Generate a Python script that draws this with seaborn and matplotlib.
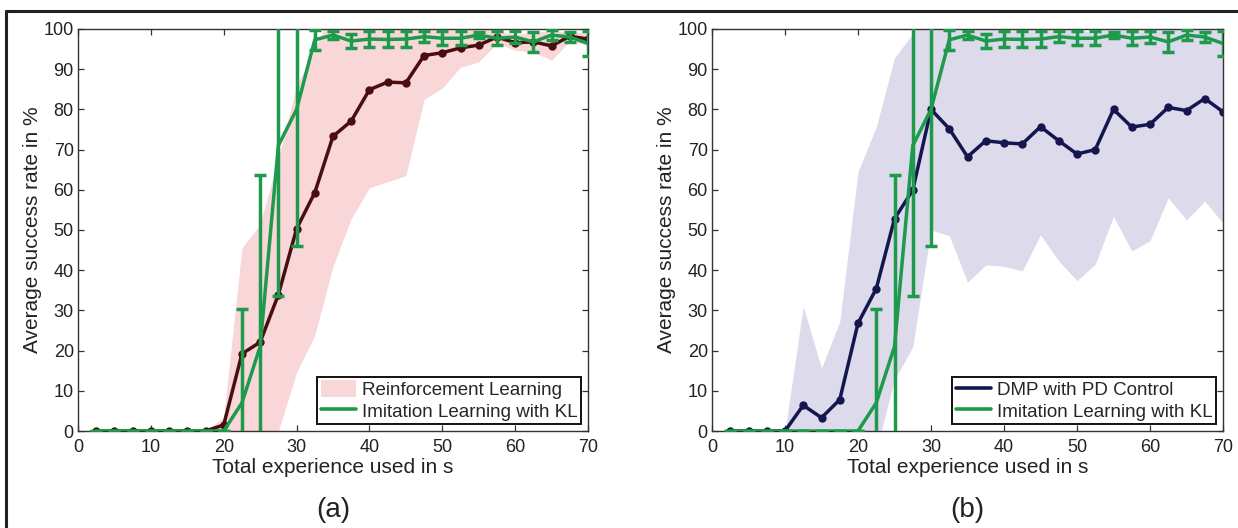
import numpy as np
import pandas as pd
import matplotlib
matplotlib.use("Agg")
import matplotlib.pyplot as plt
from matplotlib.lines import Line2D
from matplotlib.patches import Patch
import seaborn as sns

# Training budget (seconds of experience) at which each evaluation was run
experience = [2.5, 5, 7.5, 10, 12.5, 15, 17.5, 20, 22.5, 25, 27.5, 30, 32.5, 35,
              37.5, 40, 42.5, 45, 47.5, 50, 52.5, 55, 57.5, 60, 62.5, 65, 67.5, 70]

# Reinforcement learning: mean success rate and spread (%)
rl_mean = [0, 0, 0, 0, 0, 0, 0, 1.5, 19.2, 22.1, 33.9, 50.3, 59.3, 73.3,
           77.1, 84.9, 86.8, 86.6, 93.4, 94.1, 95.3, 96.0, 98.0, 96.6, 96.8, 95.8, 98.2, 97.5]
rl_std = [0, 0, 0, 0, 0, 0, 0, 2.0, 26.3, 29.4, 34.0, 35.7, 35.5, 32.3,
          24.3, 24.4, 24.8, 23.1, 10.9, 8.8, 4.8, 4.2, 1.6, 1.9, 2.5, 3.6, 1.2, 1.5]

# DMP with PD control: mean success rate and spread (%)
dmp_mean = [0, 0, 0, 0, 6.4, 3.3, 7.8, 26.8, 35.4, 52.8, 59.9, 80.0, 75.2, 68.2,
            72.2, 71.7, 71.4, 75.7, 72.2, 68.9, 70.0, 80.0, 75.6, 76.3, 80.5, 79.7, 82.7, 79.4]
dmp_std = [0, 0, 0, 0, 24.6, 12.3, 19.4, 37.7, 40.2, 40.0, 39.0, 30.0, 26.6, 31.2,
           30.9, 30.7, 31.6, 26.9, 29.9, 31.5, 28.5, 26.6, 30.8, 29.0, 22.5, 27.2, 25.5, 27.7]

# Imitation learning with KL: mean success rate and error (%)
il_mean = [0, 0, 0, 0, 0, 0, 0, 0, 7.0, 21.0, 71.0, 80.0, 97.3, 98.5,
           97.0, 97.5, 97.4, 97.5, 98.1, 97.7, 97.7, 98.5, 97.7, 98.0, 96.8, 98.5, 98.0, 96.4]
il_err = [0, 0, 0, 0, 0, 0, 0, 0, 23.4, 42.7, 37.3, 33.9, 2.5, 1.1,
          1.75, 1.9, 2.0, 1.9, 1.3, 1.7, 1.7, 0.8, 1.7, 1.4, 2.4, 1.2, 1.2, 3.2]

x_ticks = [0, 10, 20, 30, 40, 50, 60, 70]
y_ticks = [0, 10, 20, 30, 40, 50, 60, 70, 80, 90, 100]
panel_labels = ["(a)", "(b)"]
x_label = "Total experience used in s"
y_label = "Average success rate in %"
rl_name = "Reinforcement Learning"
dmp_name = "DMP with PD Control"
il_name = "Imitation Learning with KL"

GREEN = "#1d9a4b"
MAROON = "#4a0d10"
PINK = "#f9d7d9"
NAVY = "#15154f"
LAVENDER = "#dcdaeb"

sns.set_style("white")
plt.rcParams["font.family"] = ["Liberation Sans", "DejaVu Sans"]

df = pd.DataFrame({"x": experience, "rl": rl_mean, "rl_sd": rl_std,
                   "dmp": dmp_mean, "dmp_sd": dmp_std,
                   "il": il_mean, "il_err": il_err})

fig = plt.figure(figsize=(12.38, 5.28), dpi=100)
ax_a = fig.add_axes([78 / 1238, 97 / 528, 510 / 1238, 402 / 528])
ax_b = fig.add_axes([712 / 1238, 97 / 528, 511 / 1238, 402 / 528])

# outer frame lines (top and left)
fig.add_artist(Line2D([5.5 / 1238, 5.5 / 1238], [0, 1 - 10.5 / 528],
                      transform=fig.transFigure, color="#222222", lw=2.2))
fig.add_artist(Line2D([5.5 / 1238, 1], [1 - 10.5 / 528, 1 - 10.5 / 528],
                      transform=fig.transFigure, color="#222222", lw=2.2))


def draw_panel(ax, mean_col, sd_col, line_color, band_color, legend_handles, caption):
    lo = df[mean_col] - df[sd_col]
    hi = df[mean_col] + df[sd_col]
    ax.fill_between(df["x"], lo, hi, color=band_color, lw=0, zorder=1)
    sns.lineplot(data=df, x="x", y=mean_col, ax=ax, color=line_color, lw=2.5,
                 marker="o", markersize=6, markeredgewidth=0, zorder=2,
                 errorbar=None, legend=False)
    ax.errorbar(df["x"], df["il"], yerr=df["il_err"], color=GREEN, lw=2.5,
                elinewidth=2.5, capsize=4.5, capthick=2.5, zorder=3)
    ax.set_xlim(0, 70)
    ax.set_ylim(0, 100)
    ax.set_xticks(x_ticks)
    ax.set_yticks(y_ticks)
    ax.tick_params(direction="in", length=4, width=0.9, colors="#333333",
                   labelcolor="#222222", labelsize=13, top=True, right=True,
                   bottom=True, left=True)
    ax.tick_params(axis="x", pad=6)
    ax.tick_params(axis="y", pad=3)
    for s in ax.spines.values():
        s.set_visible(True)
        s.set_color("#333333")
        s.set_linewidth(1.0)
    ax.set_xlabel(x_label, fontsize=15, color="#222222", labelpad=1.5)
    ax.set_ylabel(y_label, fontsize=15, color="#222222", labelpad=1)
    leg = ax.legend(handles=legend_handles, loc="lower right", fontsize=13.5,
                    frameon=True, fancybox=False, framealpha=1, edgecolor="#111111",
                    borderaxespad=0.35, handlelength=1.9, handleheight=1.0,
                    handletextpad=0.3, borderpad=0.2, labelspacing=0.15)
    leg.get_frame().set_linewidth(1.4)
    ax.text(0.5, -0.163, caption, transform=ax.transAxes, ha="center", va="top",
            fontsize=20, color="#222222")


draw_panel(ax_a, "rl", "rl_sd", MAROON, PINK,
           [Patch(facecolor=PINK, edgecolor="none", label=rl_name),
            Line2D([], [], color=GREEN, lw=2.6, label=il_name)],
           panel_labels[0])
draw_panel(ax_b, "dmp", "dmp_sd", NAVY, LAVENDER,
           [Line2D([], [], color=NAVY, lw=2.6, label=dmp_name),
            Line2D([], [], color=GREEN, lw=2.6, label=il_name)],
           panel_labels[1])

fig.savefig("out.png", dpi=100)
